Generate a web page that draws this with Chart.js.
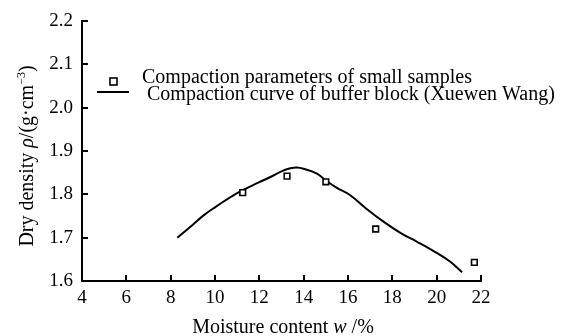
<!DOCTYPE html>
<html>
<head>
<meta charset="utf-8">
<script src="https://cdn.jsdelivr.net/npm/chart.js@4/dist/chart.umd.min.js"></script>
<style>
html,body{margin:0;padding:0;background:#fff;}
#wrap{width:562px;height:336px;position:relative;}
</style>
</head>
<body>
<div id="wrap"><canvas id="c" width="562" height="336"></canvas></div>
<script>
// ---- data ----
const sampleMoisture = [11.25, 13.25, 15.0, 17.25, 21.7];
const sampleDensity  = [1.804, 1.842, 1.829, 1.720, 1.643];
const curveMoisture  = [8.3, 9.0, 9.5, 10.0, 11.0, 12.0, 12.5, 13.0, 13.4, 13.7, 14.0, 14.6, 15.0, 15.5, 16.1, 16.8, 17.6, 18.4, 19.1, 19.9, 20.6, 21.15];
const curveDensity   = [1.700, 1.730, 1.752, 1.770, 1.803, 1.828, 1.840, 1.853, 1.860, 1.862, 1.859, 1.848, 1.832, 1.815, 1.798, 1.768, 1.737, 1.710, 1.691, 1.668, 1.645, 1.620];
const xTicks = [4, 6, 8, 10, 12, 14, 16, 18, 20, 22];
const yTicks = [1.6, 1.7, 1.8, 1.9, 2.0, 2.1, 2.2];
const seriesLabels = ["Compaction parameters of small samples", "Compaction curve of buffer block (Xuewen Wang)"];
const xTitleRuns = [{t:"Moisture content "}, {t:"w", i:true}, {t:" /%"}];
const yTitleRuns = [{t:"Dry density "}, {t:"ρ", i:true}, {t:"/(g·cm"}, {t:"−3", sup:true}, {t:")"}];

const FONT = "'Liberation Serif','Times New Roman',serif";

function runFont(r, size){ return (r.i ? "italic " : "") + (r.sup ? Math.round(size*0.6) : size) + "px " + FONT; }
function drawRuns(ctx, runs, size, cx, baseY){
  let w = 0;
  runs.forEach(r => { ctx.font = runFont(r, size); w += ctx.measureText(r.t).width; });
  let x = cx - w/2;
  runs.forEach(r => {
    ctx.font = runFont(r, size);
    ctx.fillText(r.t, x, r.sup ? baseY - size*0.4 : baseY);
    x += ctx.measureText(r.t).width;
  });
}

const extras = {
  id: 'extras',
  afterDraw(chart){
    const ctx = chart.ctx;
    const xs = chart.scales.x, ys = chart.scales.y;
    const area = chart.chartArea;
    ctx.save();
    // inward ticks
    ctx.strokeStyle = '#000'; ctx.lineWidth = 2;
    xTicks.forEach(v => {
      const px = Math.round(xs.getPixelForValue(v));
      ctx.beginPath(); ctx.moveTo(px, area.bottom); ctx.lineTo(px, area.bottom - 6); ctx.stroke();
    });
    yTicks.forEach(v => {
      const py = Math.round(ys.getPixelForValue(v));
      ctx.beginPath(); ctx.moveTo(area.left, py); ctx.lineTo(area.left + 6, py); ctx.stroke();
    });
    // titles
    ctx.fillStyle = '#000';
    ctx.textBaseline = 'alphabetic'; ctx.textAlign = 'left';
    drawRuns(ctx, xTitleRuns, 20, 283, 333);
    ctx.save();
    ctx.translate(33, 156);
    ctx.rotate(-Math.PI/2);
    drawRuns(ctx, yTitleRuns, 20, 0, 0);
    ctx.restore();
    // legend
    ctx.font = "20px " + FONT;
    ctx.lineWidth = 1.6;
    ctx.strokeStyle = '#000';
    ctx.fillStyle = '#fff';
    ctx.fillRect(110, 78, 7, 7);
    ctx.strokeRect(110, 78, 7, 7);
    ctx.fillStyle = '#000';
    ctx.fillText(chart.data.datasets[1].label, 142, 83);
    ctx.lineWidth = 2;
    ctx.beginPath(); ctx.moveTo(97, 92); ctx.lineTo(129, 92); ctx.stroke();
    ctx.fillText(chart.data.datasets[0].label, 147, 100);
    ctx.restore();
  }
};

new Chart(document.getElementById('c'), {
  type: 'scatter',
  data: {
    datasets: [
      {
        label: seriesLabels[1],
        data: curveMoisture.map((x, k) => ({x, y: curveDensity[k]})),
        showLine: true,
        borderColor: '#000',
        borderWidth: 2,
        pointRadius: 0,
        tension: 0.4,
        order: 2
      },
      {
        label: seriesLabels[0],
        data: sampleMoisture.map((x, k) => ({x, y: sampleDensity[k]})),
        showLine: false,
        pointStyle: 'rect',
        pointRadius: 4,
        borderColor: '#000',
        backgroundColor: '#fff',
        pointBorderWidth: 1.6,
        order: 1
      }
    ]
  },
  options: {
    responsive: false,
    animation: false,
    devicePixelRatio: 1,
    layout: { padding: { top: 21, right: 81, left: 0, bottom: 0 } },
    plugins: { legend: { display: false }, tooltip: { enabled: false } },
    scales: {
      x: {
        type: 'linear', min: 4, max: 22,
        afterBuildTicks(s){ s.ticks = xTicks.map(v => ({value: v})); },
        afterFit(s){ s.height = 55; },
        grid: { display: true, drawOnChartArea: false, drawTicks: false },
        border: { display: true, color: '#000', width: 2 },
        ticks: { color: '#000', padding: 6, maxRotation: 0, autoSkip: false,
                 font: { family: FONT, size: 19 }, callback: v => String(v) }
      },
      y: {
        type: 'linear', min: 1.6, max: 2.2,
        afterBuildTicks(s){ s.ticks = yTicks.map(v => ({value: v})); },
        afterFit(s){ s.width = 82; },
        grid: { display: true, drawOnChartArea: false, drawTicks: false },
        border: { display: true, color: '#000', width: 2 },
        ticks: { color: '#000', padding: 9, autoSkip: false,
                 font: { family: FONT, size: 19 }, callback: v => Number(v).toFixed(1) }
      }
    }
  },
  plugins: [extras]
});
</script>
</body>
</html>
